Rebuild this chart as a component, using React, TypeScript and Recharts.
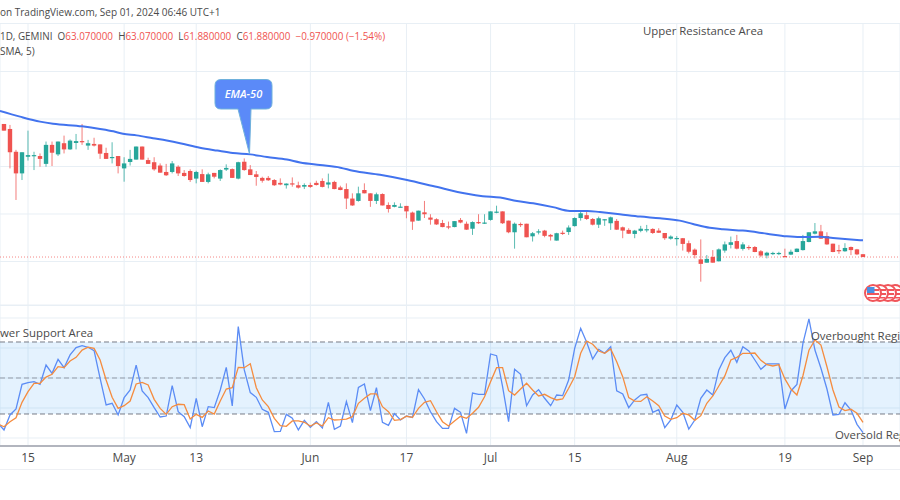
import {
  Bar,
  CartesianGrid,
  ComposedChart,
  Line,
  LineChart,
  ReferenceArea,
  ReferenceLine,
  XAxis,
  YAxis,
} from "recharts";

// daily candles
const opens = [
  117.9, 115.8, 106.2, 97.1, 104.1, 104.3, 104.4, 101.1, 109.1, 105.1, 109.8, 107.2, 109.9, 110.7, 108.8, 109.5,
  109.3, 105.7, 103.6, 104.4, 99.2, 101.9, 102.9, 108.4, 102.7, 101.8, 100.4, 97.7, 97.7, 99.9, 97.3, 98.1,
  94.9, 96.8, 93.5, 97.3, 94.9, 98.7, 98.9, 94.9, 102, 98.8, 96.7, 95.2, 95.2, 94.3, 93.1, 92.1, 92.9, 92.1,
  91.5, 92.2, 93.1, 93.9, 92.4, 93.5, 91.2, 90.5, 86.5, 85.5, 90.1, 88.7, 85.5, 88.4, 83.8, 83, 82.8, 83.4,
  80.6, 77.2, 80.7, 78.5, 77.8, 76.2, 74.8, 74.5, 77.5, 75.9, 73.8, 76.6, 76.1, 77.5, 80.6, 81.1, 77.2, 72.3,
  75.8, 75.9, 70.6, 72.2, 73, 71.2, 68.8, 72.1, 72.4, 74.9, 78.3, 79.5, 77.9, 75.5, 77.5, 76.1, 77.1, 74.4,
  73.3, 71.6, 72.9, 73.3, 73.7, 73, 72, 69.6, 69.6, 69.8, 67.7, 65, 60.9, 59.5, 61.9, 60.1, 64.6, 67, 68.6,
  65.3, 66.1, 66.1, 64.3, 62.5, 63.2, 63.3, 62.3, 62.9, 64, 64.8, 68.2, 71.7, 72.7, 70.7, 67.5, 64.8, 64.3,
  66.1, 65.1, 63.07,
];
const highs = [
  117.9, 117.5, 107, 106, 115.1, 106.2, 105.5, 110.5, 110.5, 110.5, 113, 111.4, 113.7, 117.9, 111.2, 112.1,
  109.3, 107.9, 110.2, 104.4, 103.9, 107, 108.4, 108.4, 103.7, 103.9, 101.3, 101.1, 102.3, 100.5, 98.5, 98.8,
  98.2, 98.8, 97.4, 97.3, 98.8, 100.9, 99.2, 102, 103.4, 100.6, 98.1, 95.7, 96, 94.7, 95, 92.9, 95.4, 93.6,
  92.9, 93.2, 94, 95, 97, 94, 91.9, 92.9, 88.7, 91.5, 92.9, 88.7, 89, 88.7, 84.9, 84.9, 84.5, 83.4, 81, 81.4,
  85.5, 79.9, 78.2, 77.5, 76.8, 77, 78.3, 76.8, 76.9, 79.9, 79.9, 81.1, 83.5, 81.1, 77.2, 76.4, 76.4, 75.9,
  72.4, 73.6, 73.3, 71.6, 72.1, 73, 75.2, 78.6, 81.4, 81, 78.3, 78.9, 77.8, 78.9, 77.9, 74.7, 74, 73.3, 75,
  75.4, 74, 74, 72, 71, 70.7, 69.9, 68.8, 65.5, 69.3, 62.7, 64.8, 65.5, 68.4, 70.5, 71.2, 68.1, 66.8, 66.5,
  64.8, 64.1, 64.1, 64.1, 65.4, 65, 65.5, 71.2, 72.3, 76.2, 75.4, 72.3, 67.5, 67, 67.7, 66.3, 65.3, 63.07,
];
const lows = [
  115.1, 99.2, 85.9, 94.3, 102.5, 98.5, 99.9, 99.9, 100.2, 104.4, 105.5, 107, 107.2, 109.1, 107, 108.4, 103.2,
  103.2, 101.3, 97.1, 93.6, 100.4, 102.9, 102.9, 101.1, 98.2, 97.4, 96, 97.1, 96, 95.7, 93.5, 92.9, 93.5, 92.9,
  95, 93.9, 98.1, 95.2, 94.6, 98.2, 96.4, 91.9, 93.2, 93.9, 91.8, 92.1, 90.7, 91.5, 90.7, 90.5, 91, 92, 91.2,
  90.8, 90.4, 90, 82.1, 83.4, 85.2, 88.7, 83, 84.2, 83.6, 80.6, 82.8, 82.8, 78.2, 73.3, 77.2, 78.3, 75.5, 75.4,
  74.4, 73.6, 74.4, 76.1, 73.3, 71.2, 75.8, 75.8, 77.2, 80.3, 75.8, 71.9, 65.4, 74.5, 70.2, 68.4, 71.4, 70.2,
  68.8, 68.8, 71.2, 71.2, 74.7, 77.2, 77.5, 75.2, 74.1, 75, 73.3, 73.3, 69.8, 71.6, 69.8, 72.3, 72.3, 71.6, 72,
  69.1, 69.2, 66.7, 64.6, 63.4, 61.3, 51.5, 59.5, 59.5, 60, 63.7, 65.5, 65.1, 64.6, 64.8, 63.9, 61.8, 61.3,
  62.7, 62.7, 61.8, 62.7, 63.9, 64.6, 68.1, 71.4, 69.5, 67, 63.9, 63.2, 64.1, 62.7, 62.7, 61.88,
];
const closes = [
  115.1, 106, 97.1, 106, 104.8, 104.8, 103.2, 109.1, 105.8, 110.5, 107.2, 110.9, 110.7, 110.3, 109.8, 108.8,
  105.4, 103.2, 104, 100.2, 101.3, 103.2, 108.4, 102.9, 101.1, 98.8, 97.4, 96.3, 101.3, 97.1, 96, 94.3, 97.7,
  93.5, 96.7, 95.7, 98.5, 99.4, 95.2, 101.8, 98.5, 96.4, 95.6, 94, 94.2, 92.1, 92.4, 92.8, 92.6, 91.1, 92.2,
  91.4, 92.2, 91.4, 93.3, 90.5, 90.1, 86.5, 83.6, 88.7, 88.7, 85.5, 88.3, 83.6, 82.1, 83.8, 83.1, 81.1, 76.8,
  81.4, 79.9, 77.6, 75.6, 74.5, 74.5, 77, 76.4, 73.4, 76.6, 76.1, 76.4, 81.1, 81, 76.1, 72.3, 75.9, 75.4, 70.2,
  71.9, 72.7, 70.8, 70.5, 71.9, 71.7, 74.3, 78.3, 80.3, 77.9, 75.5, 78.2, 77.8, 78.6, 73.4, 73, 71.7, 73, 73.8,
  73.6, 72, 72.1, 69.8, 70.5, 69.9, 67.4, 64.1, 62.7, 59, 61.1, 59.5, 65.1, 67.2, 68.1, 65.4, 67.2, 65.7, 64,
  62.5, 63.7, 63.6, 63.6, 61.9, 64.1, 65.4, 68.6, 72.3, 72.7, 69.6, 67.2, 64, 64.6, 65.7, 64.8, 63, 61.88,
];

// EMA-50, read at the points where the curve can be made out
const emaDays = [
  -0.67, 2.66, 6, 8.16, 13, 16, 18.2, 19.8, 22.1, 24.8, 27.1, 29.3, 32.6, 35.5, 38.1, 41, 43.8, 47.1, 49.3, 52.6,
  56, 58.1, 62.6, 67.1, 71.4, 77.1, 79.7, 82.6, 85.4, 88.1, 91.4, 94.2, 97.1, 99.2, 102.5, 105.9, 109.2, 112.5,
  114.7, 117.5, 119.7, 123, 127, 130.3, 132.5, 135.8, 138, 143,
];
const emaValues = [
  123.4, 121, 118.9, 118, 116.9, 115.8, 114.8, 113.8, 113.1, 111.9, 110.9, 109.8, 107.9, 106.7, 105.7, 105.1, 104,
  102.9, 101.7, 100.6, 99.5, 98.2, 96.5, 94.3, 91.8, 88.5, 87.5, 86.9, 85.5, 84.5, 82.9, 81.3, 81.3, 80.8, 79.9,
  78.9, 78.2, 77.2, 75.8, 74.2, 73.6, 73, 71.7, 70.6, 70.3, 70.4, 69.9, 68.9,
];

// stochastic RSI, lower pane; the first value is the day before the first candle
const kValues = [
  12.2, 6.7, 19.2, 24.2, 44.7, 46.1, 46.9, 44.7, 60.8, 53.9, 65.6, 58.6, 69.2, 75.3, 76.9, 75.6, 72.8, 49.7, 27.5, 28.9,
  19.2, 33.6, 40, 60.8, 39.2, 33.6, 25.3, 17.5, 18.3, 43.6, 21.9, 17.8, 8.6, 33.1, 9.4, 26.1, 25.3, 40, 58.9, 26.7,
  92.8, 56.7, 37.8, 33.9, 23.9, 21.4, 5.3, 5.5, 19.7, 16.4, 6.7, 14.7, 8.9, 13.6, 8.3, 29.7, 7.2, 10, 30.3, 12.8,
  42.2, 45, 22.8, 41.9, 13.1, 10.5, 20.3, 15, 18.3, 17.2, 40.3, 32.5, 21.9, 13.6, 8, 8, 24.7, 21.4, 3.9, 37.5, 36.4,
  36.4, 70, 68.6, 42.8, 13.6, 57.2, 53.1, 26.9, 35.8, 40.3, 33.1, 26.9, 35.8, 35.3, 48.3, 74.7, 91.4, 79.7, 65.8,
  73.9, 70.6, 76.1, 39.4, 36.7, 25.3, 31.7, 35.8, 36.4, 21.4, 23.6, 8.6, 15, 27.5, 21.4, 7.5, 15, 33.1, 40, 35.8,
  56.7, 66.9, 73.1, 63.1, 76.1, 72.5, 65, 57.2, 61.7, 61.7, 61.7, 24.2, 39.2, 44.7, 78.9, 99.2, 73.3, 58.1, 40.8,
  19.2, 19.7, 29.4, 23.3, 11.4, 4.4,
];
const dValues = [
  11.7, 9.4, 13.6, 16.9, 29.7, 38.6, 45.6, 45.6, 50.8, 53.1, 59.4, 58.6, 64.2, 67.2, 73.3, 75.6, 74.7, 65, 48.3, 33.9,
  24.7, 26.9, 30.8, 45, 46.4, 44.2, 32.2, 24.7, 19.7, 26.1, 28.1, 27.8, 15.8, 19.7, 17.2, 22.5, 20, 30.8, 40.8,
  41.9, 58.9, 58.6, 61.9, 41.9, 31.7, 26.1, 16.4, 10.3, 9.7, 14.2, 14.2, 13.1, 10, 12.5, 10, 16.9, 15, 15.3, 15.8,
  17.8, 28.9, 33.1, 36.7, 36.7, 26.1, 21.9, 14.7, 15.3, 18.1, 17.2, 24.7, 29.7, 31.1, 21.9, 13.6, 10, 14.2, 18.1,
  16.4, 20.6, 25.6, 34.4, 46.9, 58.6, 58.6, 39.4, 35.8, 40.8, 45.6, 40, 35, 36.4, 33.6, 31.7, 32.5, 41.4, 51.1,
  70.6, 80.8, 78.1, 72.5, 70.6, 74.2, 63.6, 51.1, 33.6, 30.8, 30.5, 34.4, 30.8, 26.9, 18.3, 15.5, 16.9, 20.6, 19.2,
  14.7, 18.6, 28.9, 35, 43.3, 51.7, 65, 67.2, 70.6, 70.6, 70.8, 64.7, 61.1, 60, 61.1, 49.2, 40.8, 35.8, 51.9, 73.1,
  81.7, 77.5, 59.4, 40, 25.8, 22.8, 23.9, 20.6, 13.1,
];

const tickDays = [4, 20, 32, 51, 67, 81, 95, 112, 130, 143];
const tickLabels = ["15", "May", "13", "Jun", "17", "Jul", "15", "Aug", "19", "Sep"];
const priceTicks = [60, 80, 100, 120, 140];
const stochTicks = [0, 25, 50, 75, 100];

const candles = opens.map((open, i) => ({
  day: i,
  open,
  close: closes[i],
  range: [lows[i], highs[i]],
}));
const emaData = emaDays.map((day, i) => ({ day, ema: emaValues[i] }));
const stochData = kValues.map((k, i) => ({ day: i - 1, k, d: dValues[i] }));

const UP = "#26a69a";
const DOWN = "#ef5350";
const GRID = "#e8eff5";
const BODY_WIDTH = 4.4;
const X_DOMAIN = [-0.666, 149.16];
const FONT = "'Open Sans', sans-serif";

function Candle(props: any) {
  const { x, y, width, height, payload } = props;
  const [low, high] = payload.range;
  const perUnit = height / (high - low || 1);
  const top = y + (high - Math.max(payload.open, payload.close)) * perUnit;
  const bottom = y + (high - Math.min(payload.open, payload.close)) * perUnit;
  const color = payload.close >= payload.open ? UP : DOWN;
  const mid = x + width / 2;
  return (
    <g>
      <line x1={mid} x2={mid} y1={y} y2={y + height} stroke={color} strokeWidth={1} opacity={0.75} />
      <rect x={mid - BODY_WIDTH / 2} y={top} width={BODY_WIDTH} height={Math.max(bottom - top, 1.2)} fill={color} />
    </g>
  );
}

function Flags() {
  const centers = [895, 888, 880, 873];
  return (
    <svg width={900} height={500} style={{ position: "absolute", left: 0, top: 0 }}>
      {centers.map((cx) => (
        <g key={cx}>
          <circle cx={cx} cy={293} r={8} fill="#ffffff" stroke="#f0555a" strokeWidth={2} />
          <rect x={cx - 6} y={289} width={12} height={2} fill="#f0555a" />
          <rect x={cx - 6} y={293} width={12} height={2} fill="#f0555a" />
          <rect x={cx - 5} y={297} width={10} height={1.5} fill="#f0555a" />
        </g>
      ))}
      <rect x={867} y={287} width={7.5} height={6} fill="#4a90e2" />
    </svg>
  );
}

function Callout() {
  return (
    <svg width={900} height={500} style={{ position: "absolute", left: 0, top: 0 }}>
      <path
        d="M221 79.5 H266 Q272 79.5 272 85.5 V103 Q272 109 266 109 H251 L249.5 154 L238 109 H221 Q215 109 215 103 V85.5 Q215 79.5 221 79.5 Z"
        fill="#5b8af8"
        stroke="#6fb1dc"
        strokeWidth={1}
      />
      <text x={243.5} y={98} textAnchor="middle" fontSize={11} fontStyle="italic" fontWeight={600} fontFamily={FONT} fill="#ffffff">
        EMA-50
      </text>
    </svg>
  );
}

const labelStyle: any = {
  position: "absolute",
  whiteSpace: "nowrap",
  fontFamily: FONT,
  color: "#4a4a4a",
  lineHeight: "14px",
};

export default function App() {
  return (
    <div style={{ position: "absolute", left: 0, top: 0, width: 900, height: 500, overflow: "hidden", background: "#ffffff" }}>
      <div style={{ position: "absolute", left: 0, top: 23 }}>
        <ComposedChart width={900} height={282} data={candles} margin={{ top: 0, right: 0, bottom: 0, left: 0 }}>
          <CartesianGrid stroke={GRID} />
          <XAxis dataKey="day" type="number" domain={X_DOMAIN} ticks={tickDays} allowDataOverflow hide />
          <YAxis type="number" domain={[41.68, 160.42]} ticks={priceTicks} allowDataOverflow hide />
          <ReferenceLine y={61.88} stroke={DOWN} strokeDasharray="1 2" strokeOpacity={0.7} />
          <Bar dataKey="range" barSize={4} isAnimationActive={false} shape={<Candle />} />
          <Line data={emaData} dataKey="ema" type="monotone" stroke="#4273ee" strokeWidth={2} dot={false} activeDot={false} isAnimationActive={false} />
        </ComposedChart>
      </div>

      <div style={{ position: "absolute", left: 0, top: 305 }}>
        <LineChart width={900} height={195} data={stochData} margin={{ top: 0, right: 0, bottom: 0, left: 0 }}>
          <CartesianGrid stroke={GRID} />
          <XAxis
            dataKey="day"
            type="number"
            domain={X_DOMAIN}
            ticks={tickDays}
            interval={0}
            allowDataOverflow
            height={54}
            tickLine={false}
            tickMargin={1}
            tick={{ fontSize: 12, fill: "#4a4a4a", fontFamily: FONT }}
            tickFormatter={(d: number) => tickLabels[tickDays.indexOf(d)]}
            axisLine={{ stroke: "#b2b5be", strokeWidth: 2 }}
          />
          <YAxis type="number" domain={[-6.67, 110.83]} ticks={stochTicks} allowDataOverflow hide />
          <ReferenceArea y1={20} y2={80} fill="#2196f3" fillOpacity={0.12} stroke="none" />
          <ReferenceLine y={80} stroke="#787b86" strokeDasharray="5 3" />
          <ReferenceLine y={50} stroke="#787b86" strokeOpacity={0.7} strokeDasharray="5 3" />
          <ReferenceLine y={20} stroke="#787b86" strokeDasharray="5 3" />
          <Line dataKey="k" type="linear" stroke="#5b8cf5" strokeWidth={1.3} dot={false} activeDot={false} isAnimationActive={false} />
          <Line dataKey="d" type="linear" stroke="#f58c3f" strokeWidth={1.3} dot={false} activeDot={false} isAnimationActive={false} />
        </LineChart>
      </div>

      <div style={{ position: "absolute", left: 0, top: 23, width: 900, height: 1, background: GRID }} />
      <div style={{ position: "absolute", left: 0, top: 305, width: 900, height: 1, background: GRID }} />
      <div style={{ position: "absolute", left: 0, top: 469, width: 900, height: 1, background: "#eef0f4" }} />

      <Flags />
      <Callout />

      <div style={{ ...labelStyle, left: 0, top: 5, fontSize: 10 }}>on TradingView.com, Sep 01, 2024 06:46 UTC+1</div>
      <div style={{ ...labelStyle, left: 0, top: 29, fontSize: 9.9 }}>
        1D, GEMINI&nbsp; O<span style={{ color: DOWN }}>63.070000</span>&nbsp; H<span style={{ color: DOWN }}>63.070000</span>&nbsp; L
        <span style={{ color: DOWN }}>61.880000</span>&nbsp; C<span style={{ color: DOWN }}>61.880000</span>&nbsp;{" "}
        <span style={{ color: DOWN }}>−0.970000 (−1.54%)</span>
      </div>
      <div style={{ ...labelStyle, left: 0, top: 44, fontSize: 10 }}>SMA, 5)</div>
      <div style={{ ...labelStyle, left: 643, top: 24, fontSize: 11.4 }}>Upper Resistance Area</div>
      <div style={{ ...labelStyle, left: 0, top: 326, fontSize: 11.4 }}>wer Support Area</div>
      <div style={{ ...labelStyle, left: 811, top: 329, fontSize: 11.4 }}>Overbought Region</div>
      <div style={{ ...labelStyle, left: 835, top: 428, fontSize: 11.4 }}>Oversold Region</div>
    </div>
  );
}
